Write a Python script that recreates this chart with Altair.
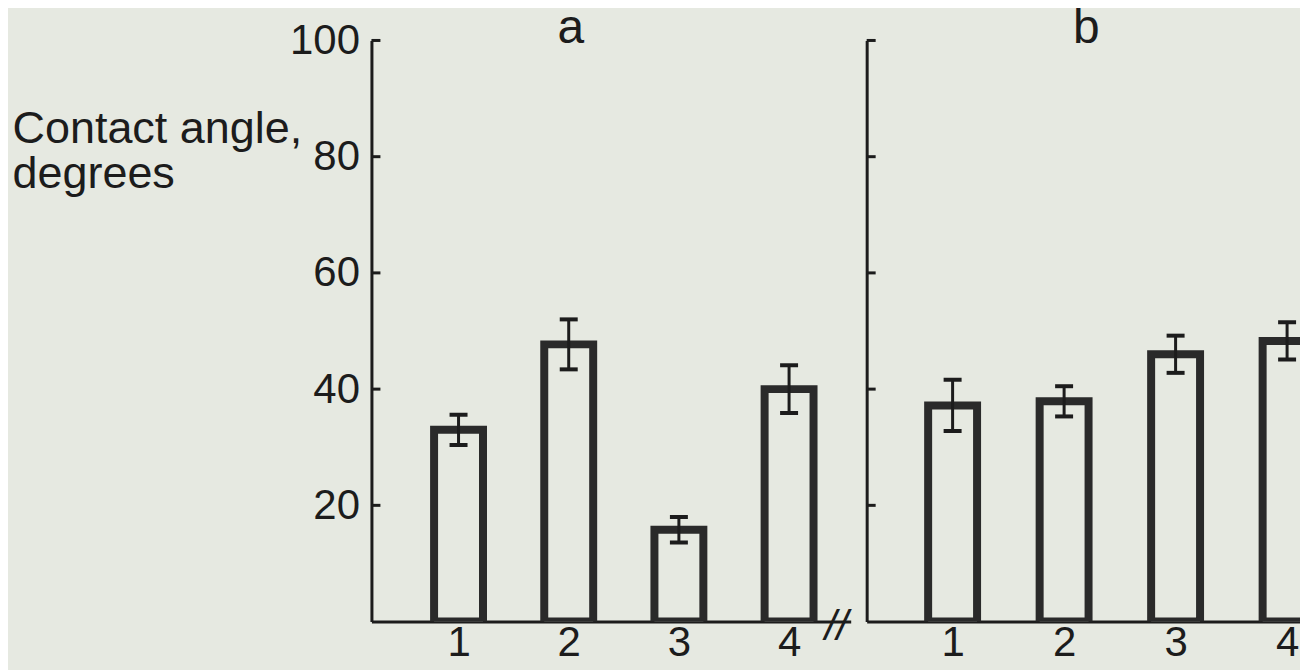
import altair as alt
import pandas as pd

# ---- data ----
categories = [1, 2, 3, 4]
a_values = [33.0, 47.7, 15.8, 40.0]
a_errors = [2.6, 4.3, 2.2, 4.1]
b_values = [37.2, 37.9, 46.0, 48.3]
b_errors = [4.4, 2.6, 3.2, 3.2]
y_ticks = [20, 40, 60, 80, 100]
panel_titles = ["a", "b"]
panel_title_x = [2.02, 2.2]
y_title = ["Contact angle,", "degrees"]
break_label = "//"
break_pos = 4.43

BG = "#e6e9e1"
INK = "#1c1c1c"
BAR_INK = "#2a2a2a"
FONT = "Liberation Sans"


def make_frame(values, errors):
    return pd.DataFrame({
        "cat": categories,
        "val": values,
        "lo": [v - e for v, e in zip(values, errors)],
        "hi": [v + e for v, e in zip(values, errors)],
    })


def panel(df, title, title_x, width, xdomain, left, with_break):
    xscale = alt.Scale(domain=xdomain, nice=False, zero=False)
    yscale = alt.Scale(domain=[0, 100], nice=False)
    xaxis = alt.Axis(values=categories, format="d", ticks=False, grid=False,
                     labelFontSize=42, labelPadding=1, labelFont=FONT,
                     labelColor=INK, domainColor=INK, domainWidth=3, title=None)
    if left:
        yaxis = alt.Axis(values=y_ticks, ticks=False, grid=False, labelFontSize=42,
                         labelFont=FONT, labelColor=INK, labelPadding=12,
                         domainColor=INK, domainWidth=3,
                         title=y_title, titleAngle=0, titleAlign="left",
                         titleBaseline="alphabetic", titleX=-360, titleY=102,
                         titleFontSize=45, titleFont=FONT, titleFontWeight="normal",
                         titleColor=INK, titleLineHeight=45)
    else:
        yaxis = alt.Axis(values=y_ticks, ticks=False, grid=False, labels=False,
                         domainColor=INK, domainWidth=3, title=None)

    def X(f):
        return alt.X(f, scale=xscale, axis=xaxis)

    def Y(f):
        return alt.Y(f, scale=yscale, axis=yaxis)

    base = alt.Chart(df)
    bars = base.mark_bar(size=49, fill=BG, stroke=BAR_INK, strokeWidth=8,
                         opacity=1, clip=True).encode(x=X("cat:Q"), y=Y("val:Q"))
    stems = base.mark_rule(strokeWidth=3, color=INK, opacity=1, clip=True).encode(
        x=X("cat:Q"), y=Y("lo:Q"), y2="hi:Q")
    cap_lo = base.mark_tick(orient="horizontal", size=18, thickness=4, color=INK,
                            opacity=1, clip=True).encode(x=X("cat:Q"), y=Y("lo:Q"))
    cap_hi = base.mark_tick(orient="horizontal", size=18, thickness=4, color=INK,
                            opacity=1, clip=True).encode(x=X("cat:Q"), y=Y("hi:Q"))
    ticks = alt.Chart(pd.DataFrame({"t": y_ticks})).mark_rule(
        strokeWidth=3, color=INK).encode(y=Y("t:Q"), x=alt.value(0), x2=alt.value(9))
    ttl = alt.Chart(pd.DataFrame({"x": [title_x], "y": [100], "t": [title]})).mark_text(
        fontSize=48, font=FONT, color=INK, baseline="alphabetic", align="center", dy=3
    ).encode(x=X("x:Q"), y=Y("y:Q"), text="t:N")
    layers = [bars, stems, cap_lo, cap_hi, ticks, ttl]
    if with_break:
        brk = alt.Chart(pd.DataFrame({"x": [break_pos], "y": [0], "t": [break_label]})).mark_text(
            fontSize=42, font=FONT, fontStyle="italic", color=INK, baseline="middle",
            align="center", dy=5
        ).encode(x=X("x:Q"), y=Y("y:Q"), text="t:N")
        layers.append(brk)
    return alt.layer(*layers).properties(width=width, height=582)


left = panel(make_frame(a_values, a_errors), panel_titles[0], panel_title_x[0], 480,
             [0.2547, 4.514], True, True)
right = panel(make_frame(b_values, b_errors), panel_titles[1], panel_title_x[1], 434,
              [0.274, 4.071], False, False)

chart = alt.hconcat(left, right, spacing=14).properties(
    background=BG,
    padding={"left": 4, "top": -3, "right": 0, "bottom": 8},
).configure_view(stroke=None)

chart.save("out.html", embed_options={"renderer": "svg", "actions": False})
